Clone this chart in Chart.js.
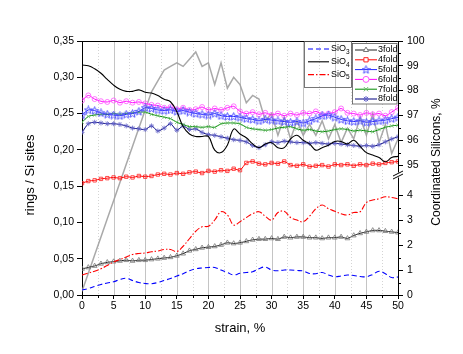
<!DOCTYPE html>
<html>
<head>
<meta charset="utf-8">
<script src="https://cdn.jsdelivr.net/npm/chart.js@4.4.1/dist/chart.umd.min.js"></script>
<style>
html,body{margin:0;padding:0;background:#fff}
#wrap{width:463px;height:354px}
</style>
</head>
<body>
<div id="wrap"><canvas id="c" width="463" height="354"></canvas></div>
<script>
// strain, % (x)
const strain = [0,1,2,3,4,5,6,7,8,9,10,11,12,13,14,15,16,17,18,19,20,21,22,23,24,25,26,27,28,29,30,31,32,33,34,35,36,37,38,39,40,41,42,43,44,45,46,47,48,49,50];

// rings / Si sites (left axis)
const fold3 = [0.036,0.038,0.040,0.043,0.045,0.046,0.047,0.048,0.047,0.048,0.048,0.049,0.050,0.051,0.052,0.054,0.057,0.061,0.063,0.065,0.066,0.067,0.069,0.072,0.071,0.072,0.074,0.076,0.077,0.077,0.078,0.077,0.080,0.079,0.080,0.080,0.079,0.079,0.078,0.079,0.079,0.080,0.078,0.082,0.085,0.087,0.089,0.089,0.088,0.087,0.086];
const fold4 = [0.154,0.157,0.158,0.160,0.161,0.162,0.161,0.163,0.162,0.164,0.163,0.164,0.166,0.167,0.166,0.168,0.167,0.169,0.170,0.168,0.171,0.170,0.172,0.171,0.174,0.172,0.182,0.184,0.181,0.180,0.182,0.181,0.184,0.179,0.178,0.180,0.177,0.178,0.179,0.177,0.180,0.179,0.180,0.178,0.180,0.179,0.181,0.180,0.182,0.183,0.184];
const fold5 = [0.248,0.255,0.254,0.251,0.249,0.248,0.247,0.249,0.250,0.253,0.258,0.257,0.255,0.254,0.255,0.253,0.254,0.252,0.250,0.249,0.248,0.250,0.247,0.246,0.246,0.245,0.243,0.242,0.240,0.242,0.241,0.240,0.239,0.238,0.239,0.237,0.240,0.243,0.247,0.248,0.245,0.242,0.240,0.239,0.240,0.238,0.239,0.240,0.241,0.243,0.245];
const fold6 = [0.268,0.275,0.270,0.267,0.266,0.268,0.265,0.267,0.265,0.266,0.264,0.262,0.261,0.258,0.259,0.256,0.258,0.255,0.256,0.259,0.255,0.257,0.255,0.258,0.260,0.253,0.250,0.252,0.249,0.251,0.248,0.250,0.247,0.250,0.248,0.251,0.250,0.253,0.249,0.250,0.252,0.257,0.251,0.250,0.248,0.251,0.249,0.250,0.247,0.252,0.258];
const fold7 = [0.238,0.246,0.248,0.249,0.249,0.250,0.249,0.250,0.251,0.252,0.252,0.249,0.247,0.245,0.243,0.238,0.235,0.232,0.232,0.231,0.232,0.231,0.236,0.237,0.237,0.236,0.231,0.229,0.228,0.227,0.228,0.230,0.231,0.232,0.229,0.227,0.228,0.226,0.225,0.226,0.228,0.229,0.228,0.226,0.227,0.226,0.225,0.228,0.231,0.233,0.234];
const fold8 = [0.224,0.236,0.238,0.237,0.236,0.236,0.235,0.233,0.230,0.229,0.228,0.233,0.226,0.230,0.236,0.227,0.233,0.228,0.229,0.224,0.221,0.220,0.218,0.216,0.214,0.213,0.211,0.206,0.203,0.207,0.211,0.210,0.212,0.211,0.210,0.210,0.209,0.210,0.209,0.208,0.209,0.208,0.207,0.206,0.205,0.206,0.205,0.207,0.211,0.215,0.218];
// unlabelled grey curve (left axis)
const greyCurve = [0.005,0.030,0.055,0.080,0.105,0.130,0.155,0.180,0.205,0.230,0.255,0.280,0.295,0.310,0.315,0.320,0.315,0.325,0.335,0.315,0.320,0.290,0.320,0.285,0.300,0.290,0.265,0.275,0.270,0.240,0.250,0.220,0.245,0.215,0.240,0.220,0.235,0.220,0.240,0.215,0.235,0.210,0.230,0.215,0.245,0.220,0.250,0.210,0.235,0.195,0.215];

// Coordinated Silicons, % (right, broken axis)
const sio3 = [0.20,0.26,0.34,0.42,0.48,0.53,0.62,0.67,0.58,0.50,0.46,0.45,0.50,0.58,0.66,0.76,0.85,0.97,1.05,1.08,1.10,1.10,1.00,0.90,0.80,0.87,0.90,0.93,1.05,1.12,1.00,0.97,1.00,1.00,0.98,0.96,0.86,0.85,0.90,0.80,0.73,0.76,0.80,0.78,0.74,0.73,0.82,0.95,0.85,0.70,0.72];
const sio4 = [99.03,99.00,98.88,98.70,98.45,98.22,98.05,97.97,97.97,98.03,97.93,97.90,97.80,97.65,97.55,97.15,96.55,96.25,96.15,96.15,96.15,95.60,95.50,95.80,96.45,96.25,96.10,95.85,95.70,95.85,95.90,95.70,95.70,96.05,96.20,96.00,95.85,95.60,95.70,95.80,95.95,95.95,95.85,96.00,95.75,95.50,95.40,95.30,95.13,95.30,95.35];
const sio5 = [0.80,0.88,0.95,1.05,1.18,1.32,1.42,1.52,1.62,1.66,1.68,1.73,1.76,1.82,1.82,1.74,1.95,2.25,2.55,2.73,2.75,3.00,3.33,3.20,2.80,2.93,3.10,3.25,3.33,3.15,3.00,3.30,3.35,3.10,3.00,2.93,3.15,3.45,3.60,3.45,3.35,3.25,3.20,3.30,3.33,3.70,3.80,3.85,3.93,3.90,3.85];

const xTicks = [0,5,10,15,20,25,30,35,40,45,50];
const leftTicks = [0,0.05,0.10,0.15,0.20,0.25,0.30,0.35];
const rightTicks = [0,1,2,3,4,95,96,97,98,99,100];

const FONT = "'Liberation Sans', Arial, sans-serif";

// broken right axis: 0..4 in lower part, 95..100 in upper part (units = px of plot height)
function brk(v){ return v <= 4 ? v*25 : 130 + (v-95)*24.8; }

function pts(arr, f){ return arr.map((v,i)=>({x:strain[i], y: f ? f(v) : v})); }

// 5-point open star for 5fold
const starImg = (()=>{
  const c = document.createElement('canvas'); c.width = 9; c.height = 9;
  const g = c.getContext('2d'); g.strokeStyle = '#5555ff'; g.lineWidth = 1;
  g.beginPath();
  for(let k=0;k<10;k++){
    const r = k%2 ? 1.8 : 4.2, a = -Math.PI/2 + k*Math.PI/5;
    const px = 4.5 + r*Math.cos(a), py = 4.8 + r*Math.sin(a);
    k ? g.lineTo(px,py) : g.moveTo(px,py);
  }
  g.closePath(); g.stroke();
  return c;
})();

const ringStyle = {borderWidth:1, pointRadius:2.2, pointBorderWidth:0.8, pointBackgroundColor:'rgba(255,255,255,0)', tension:0.25, yAxisID:'y'};

const datasets = [
  {label:'SiO3', data:pts(sio3,brk), yAxisID:'y2', borderColor:'#0000ff', borderWidth:1.1, borderDash:[5,3], pointRadius:0, tension:0.4, sub:'3'},
  {label:'SiO4', data:pts(sio4,brk), yAxisID:'y2', borderColor:'#000000', borderWidth:1.1, pointRadius:0, tension:0.4, sub:'4'},
  {label:'SiO5', data:pts(sio5,brk), yAxisID:'y2', borderColor:'#ff0000', borderWidth:1.1, borderDash:[6,2,1.5,2], pointRadius:0, tension:0.4, sub:'5'},
  {...ringStyle, label:'3fold', data:pts(fold3), borderColor:'#222222', pointBorderColor:'#777777', pointStyle:'triangle', pointRadius:2.8},
  {...ringStyle, label:'4fold', data:pts(fold4), borderColor:'#ff0000', pointBorderColor:'#ff2020', pointStyle:'rect', pointRadius:2.4},
  {...ringStyle, label:'5fold', data:pts(fold5), borderColor:'#2020ff', pointBorderColor:'#6060ff', pointStyle:starImg},
  {...ringStyle, label:'6fold', data:pts(fold6), borderColor:'#ff00ff', pointBorderColor:'#ff55ff', pointStyle:'circle', pointRadius:2.5},
  {...ringStyle, label:'7fold', data:pts(fold7), borderColor:'#008a00', pointBorderColor:'#66bb66', pointStyle:'crossRot', pointRadius:2.5},
  {...ringStyle, label:'8fold', data:pts(fold8), borderColor:'#000080', pointBorderColor:'#6464c8', pointStyle:'star', pointRadius:2.5},
  {label:'', data:pts(greyCurve), yAxisID:'y', borderColor:'rgba(160,160,160,0.9)', borderWidth:1.5, pointRadius:0, tension:0, order:10}
];

// grid, minor ticks, axis break, frame, legends and titles
const decor = {
  id:'decor',
  beforeDatasetsDraw(chart){
    const {ctx, chartArea:a, scales:{x}} = chart;
    ctx.save();
    for(let v=2.5; v<50; v+=2.5){
      const px = Math.round(x.getPixelForValue(v)) + 0.5;
      const major = v % 5 === 0;
      ctx.strokeStyle = major ? '#c4c4c4' : '#d4d4d4';
      ctx.lineWidth = 1;
      ctx.setLineDash(major ? [] : [1,2]);
      ctx.beginPath(); ctx.moveTo(px, a.top); ctx.lineTo(px, a.bottom); ctx.stroke();
    }
    ctx.restore();
  },
  afterDraw(chart){
    const {ctx, chartArea:a, scales:{x, y2}} = chart;
    ctx.save();
    ctx.strokeStyle = '#000'; ctx.lineWidth = 1;
    // top frame
    ctx.beginPath(); ctx.moveTo(a.left, a.top+0.5); ctx.lineTo(a.right, a.top+0.5); ctx.stroke();
    // minor ticks
    ctx.beginPath();
    for(let v=2.5; v<50; v+=5){ const px = Math.round(x.getPixelForValue(v))+0.5; ctx.moveTo(px, a.bottom); ctx.lineTo(px, a.bottom+3); }
    [0.5,1.5,2.5,3.5,95.5,96.5,97.5,98.5,99.5].forEach(v=>{ const py = Math.round(y2.getPixelForValue(brk(v)))+0.5; ctx.moveTo(a.right, py); ctx.lineTo(a.right+3, py); });
    ctx.stroke();
    // axis break
    const by = y2.getPixelForValue(120);
    ctx.fillStyle = '#fff'; ctx.fillRect(a.right-2, by-2.5, 5, 5);
    ctx.beginPath();
    ctx.moveTo(a.right-5, by+1); ctx.lineTo(a.right+5, by-4);
    ctx.moveTo(a.right-5, by+4); ctx.lineTo(a.right+5, by-1);
    ctx.stroke();

    // legend 1 (SiO)
    ctx.strokeStyle = '#555'; ctx.lineWidth = 0.8;
    ctx.strokeRect(304.5, 41.5, 47, 46);
    const sio = chart.data.datasets.slice(0,3);
    sio.forEach((ds,i)=>{
      const yy = 49 + i*12.8;
      sample(ctx, 308, 329, yy, ds);
      ctx.fillStyle = '#000'; ctx.textBaseline = 'middle'; ctx.textAlign = 'left';
      ctx.font = '9px ' + FONT; ctx.fillText('SiO', 331, yy);
      const w = ctx.measureText('SiO').width;
      ctx.font = '6.5px ' + FONT; ctx.fillText(ds.sub, 331 + w, yy + 3);
    });
    // legend 2 (rings)
    ctx.fillStyle = '#fff'; ctx.fillRect(352, 43, 45, 61);
    ctx.strokeStyle = '#555'; ctx.lineWidth = 0.8;
    ctx.strokeRect(352.5, 43.5, 44.5, 60.5);
    chart.data.datasets.slice(3,9).forEach((ds,i)=>{
      const yy = 50 + i*9.8;
      sample(ctx, 355, 377, yy, ds);
      ctx.fillStyle = '#000'; ctx.textBaseline = 'middle'; ctx.textAlign = 'left';
      ctx.font = '9px ' + FONT; ctx.fillText(ds.label, 378, yy);
    });

    // axis titles
    ctx.fillStyle = '#000'; ctx.textAlign = 'center'; ctx.textBaseline = 'middle';
    ctx.font = '13px ' + FONT;
    ctx.fillText('strain, %', (a.left+a.right)/2, 328);
    ctx.save(); ctx.translate(30, 175); ctx.rotate(-Math.PI/2); ctx.fillText('rings / Si sites', 0, 0); ctx.restore();
    ctx.font = '12px ' + FONT;
    ctx.save(); ctx.translate(437, 162); ctx.rotate(-Math.PI/2); ctx.fillText('Coordinated Silicons, %', 0, 0); ctx.restore();
    ctx.restore();
  }
};

function sample(ctx, x1, x2, yy, ds){
  ctx.save();
  ctx.strokeStyle = ds.borderColor; ctx.lineWidth = ds.borderWidth;
  ctx.setLineDash(ds.borderDash || []);
  ctx.beginPath(); ctx.moveTo(x1, yy); ctx.lineTo(x2, yy); ctx.stroke();
  ctx.setLineDash([]);
  if(ds.pointStyle){
    ctx.strokeStyle = ds.pointBorderColor; ctx.fillStyle = '#fff'; ctx.lineWidth = 1;
    Chart.helpers.drawPoint(ctx, {pointStyle: ds.pointStyle, radius: 3, rotation: 0, borderWidth: 1}, (x1+x2)/2, yy);
  }
  ctx.restore();
}

const tickFont = {family: FONT, size: 10.5};

new Chart(document.getElementById('c'), {
  type: 'line',
  data: {datasets},
  options: {
    responsive: false,
    animation: false,
    devicePixelRatio: 1,
    layout: {padding: {top: 41, left: 0, right: 0, bottom: 0}},
    plugins: {legend: {display: false}, tooltip: {enabled: false}},
    scales: {
      x: {
        type: 'linear', min: 0, max: 50,
        afterBuildTicks: s => { s.ticks = xTicks.map(v=>({value:v})); },
        ticks: {color:'#000', font:tickFont, padding:1, maxRotation:0, autoSkip:false, callback: v => String(v)},
        grid: {drawOnChartArea:false, tickLength:4, color:'#000'},
        border: {color:'#000', width:1},
        afterFit: s => { s.height = 59; }
      },
      y: {
        position: 'left', min: 0, max: 0.35,
        afterBuildTicks: s => { s.ticks = leftTicks.map(v=>({value:v})); },
        ticks: {color:'#000', font:tickFont, padding:3, autoSkip:false, callback: v => v.toFixed(2).replace('.', ',')},
        grid: {drawOnChartArea:false, tickLength:5, color:'#000'},
        border: {color:'#000', width:1},
        afterFit: s => { s.width = 82; }
      },
      y2: {
        position: 'right', min: 0, max: 254,
        afterBuildTicks: s => { s.ticks = rightTicks.map(v=>({value:brk(v)})); },
        ticks: {color:'#000', font:tickFont, padding:4, autoSkip:false, callback: (v,i) => String(rightTicks[i])},
        grid: {drawOnChartArea:false, tickLength:5, color:'#000'},
        border: {color:'#000', width:1},
        afterFit: s => { s.width = 65; }
      }
    }
  },
  plugins: [decor]
});
</script>
</body>
</html>
